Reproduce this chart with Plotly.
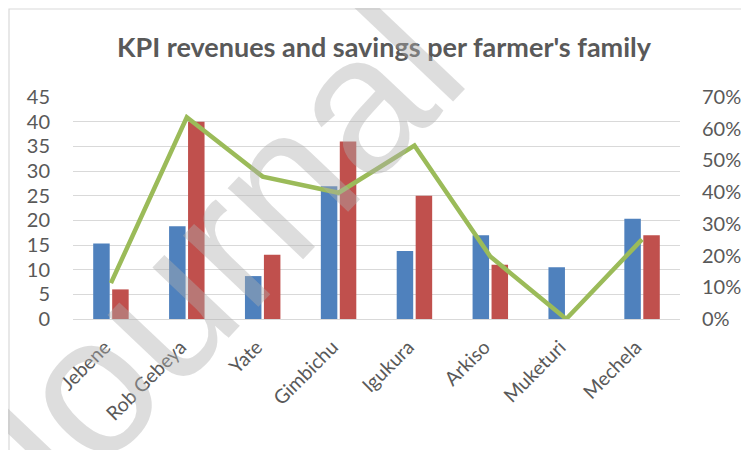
import plotly.graph_objects as go

categories = ["Jebene", "Rob Gebeya", "Yate", "Gimbichu", "Igukura", "Arkiso", "Muketuri", "Mechela"]
revenues = [15.3, 18.8, 8.7, 26.9, 13.8, 17.0, 10.5, 20.3]
savings = [6, 40, 13, 36, 25, 11, 0, 17]
ratio = [0.113, 0.636, 0.449, 0.398, 0.547, 0.197, 0.0, 0.251]
left_ticks = [0, 5, 10, 15, 20, 25, 30, 35, 40, 45]
right_ticks = [0, 0.1, 0.2, 0.3, 0.4, 0.5, 0.6, 0.7]

FONT = "Lato"
GRAY = "#595959"

# The page body adds an 8px offset; the figure is sized so it ends at the window edge.
W, H = 741, 442
L, R, T, B = 65, 69, 89, 131
PW, PH = W - L - R, H - T - B

fig = go.Figure()
fig.add_trace(go.Bar(x=categories, y=revenues, marker=dict(color="#4F81BD", line=dict(width=0)), name="Revenues"))
fig.add_trace(go.Bar(x=categories, y=savings, marker=dict(color="#C0504D", line=dict(width=0)), name="Savings"))
fig.add_trace(go.Scatter(x=categories, y=ratio, yaxis="y2", mode="lines",
                         line=dict(color="#9BBB59", width=4.5), name="Ratio"))

fig.update_layout(
    width=W, height=H,
    margin=dict(l=L, r=R, t=T, b=B, autoexpand=False),
    paper_bgcolor="white", plot_bgcolor="white",
    showlegend=False,
    barmode="group", bargap=0.5, bargroupgap=0.13,
    title=dict(text="<b>KPI revenues and savings per farmer's family</b>",
               x=(384 - 8) / W, xanchor="center", y=1 - (48 - 8) / H, yanchor="middle",
               font=dict(family=FONT, size=27, color=GRAY)),
    font=dict(family=FONT, color=GRAY),
    xaxis=dict(tickangle=-45, tickfont=dict(size=19.5, color=GRAY), showgrid=False,
               showline=False, ticks="", ticklabelstandoff=12, ticklabelshift=-6),
    yaxis=dict(range=[0, 45], tickvals=left_ticks, tickfont=dict(size=20, color=GRAY),
               showgrid=True, gridcolor="#D9D9D9", gridwidth=1.3, zeroline=True,
               zerolinecolor="#D9D9D9", zerolinewidth=1.3, showline=False,
               ticklabelstandoff=22),
    yaxis2=dict(range=[0, 0.7], tickvals=right_ticks, tickformat=".0%", overlaying="y",
                side="right", showgrid=False, zeroline=False, showline=False,
                tickfont=dict(size=20, color=GRAY), ticklabelstandoff=21),
    shapes=[dict(type="rect", xref="paper", yref="paper",
                 x0=(1 - L) / PW, x1=(W - 6 - L) / PW,
                 y0=-2, y1=(PH + T - 1) / PH,
                 line=dict(color="#D9D9D9", width=1.2), layer="below")],
    annotations=[dict(text="Journal", xref="paper", yref="paper",
                      x=(203 - 73) / PW, y=(319 - 266) / PH, xanchor="center", yanchor="middle",
                      showarrow=False, textangle=-46.5,
                      font=dict(family="Liberation Sans", size=196, color="rgba(175,175,175,0.42)"))],
)

fig.write_html("out.html")
